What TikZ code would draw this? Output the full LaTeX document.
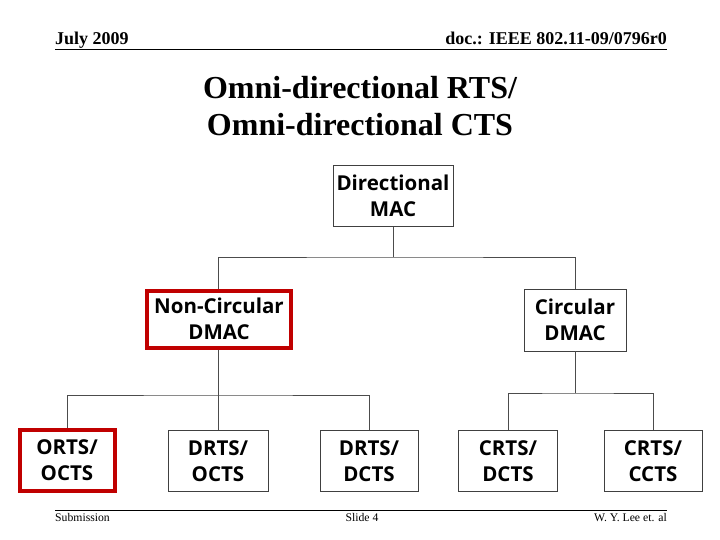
\documentclass[tikz,border=0pt]{standalone}
\usepackage{fontspec}
\setmainfont{Liberation Serif}
\newfontfamily\boxfont{Open Sans}
\definecolor{dred}{HTML}{C00000}
\tikzset{
  box/.style={draw=black!75, line width=0.9pt, fill=white, minimum width=#1, minimum height=61pt, align=center, inner sep=0pt, font=\boxfont\bfseries\fontsize{20.5}{25.5}\selectfont},
  redbox/.style={box=#1, draw=dred, line width=4pt},
  conn/.style={draw=black!70, line width=0.9pt},
  hdr/.style={inner sep=0pt, font=\bfseries\fontsize{18}{20}\selectfont},
  ftr/.style={inner sep=0pt, font=\fontsize{11.7}{13}\selectfont},
}
\begin{document}
\begin{tikzpicture}[x=1pt,y=-1pt]
\useasboundingbox (0,0) rectangle (720,540);
% header
\node[hdr, anchor=base west] (hl) at (55,45) {July 2009};
\node[hdr, anchor=base east] (hr) at (667,45) {doc.: IEEE 802.11-09/0796r0};
\draw[line width=0.9pt] (55,49) -- (667,49);
% title
\node[align=center, font=\bfseries\fontsize{32}{37}\selectfont, inner sep=0pt] (title) at (360,106) {Omni-directional RTS/\\Omni-directional CTS};
% boxes
\node[box=120pt] (mac) at (393,196) {Directional\\MAC};
\node[redbox=144pt, minimum height=57pt] (nc) at (219,319) {Non-Circular\\DMAC};
\node[box=102pt, minimum height=62pt] (c) at (575,320) {Circular\\DMAC};
\node[redbox=95pt, minimum height=61pt] (o1) at (67,460) {ORTS/\\OCTS};
\node[box=100pt] (o2) at (218,461) {DRTS/\\OCTS};
\node[box=98pt] (o3) at (369,461) {DRTS/\\DCTS};
\node[box=99pt] (o4) at (508,461) {CRTS/\\DCTS};
\node[box=98pt] (o5) at (653,461) {CRTS/\\CCTS};
% connectors
\coordinate (j1) at (393,257);
\coordinate (j2) at (218,395);
\coordinate (j3) at (575,393);
\draw[conn] (mac.south) -- (j1);
\draw[conn] (nc.north -| 218,0) |- (j1) -| (c.north);
\draw[conn] (nc.south -| 218,0) -- (j2);
\draw[conn] (o1.north) |- (j2) -| (o3.north);
\draw[conn] (j2) -- (o2.north);
\draw[conn] (c.south) -- (j3);
\draw[conn] (o4.north) |- (j3) -| (o5.north);
% footer
\draw[line width=0.9pt] (55,510) -- (667,510);
\node[ftr, anchor=base west] (fl) at (55,521) {Submission};
\node[ftr, anchor=base] (fm) at (362,521) {Slide 4};
\node[ftr, anchor=base east] (fr) at (667,521) {W. Y. Lee et. al};
\end{tikzpicture}
\end{document}
